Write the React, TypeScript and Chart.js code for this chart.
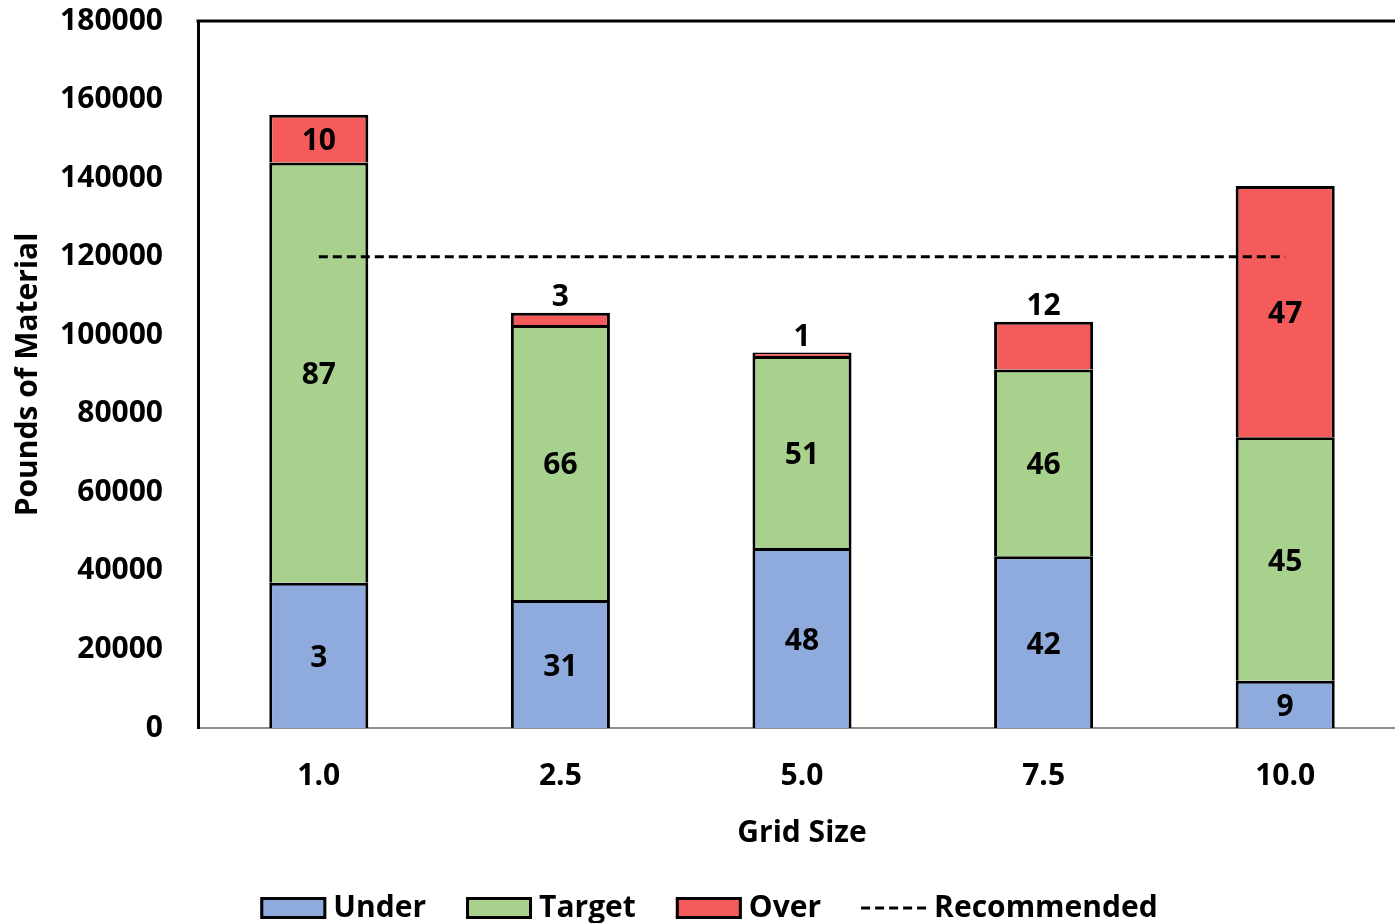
import { useEffect, useRef } from "react";
import { Chart, registerables } from "chart.js";

Chart.register(...registerables);

// Grid sizes on the x axis
const gridSizes = ["1.0", "2.5", "5.0", "7.5", "10.0"];

// Pounds of material per grid size, split by application rate class
const underLbs = [37000, 32600, 45800, 43700, 12000];
const targetLbs = [107000, 70000, 48900, 47600, 62000];
const overLbs = [12100, 3100, 900, 12100, 64000];
const recommendedLbs = [120000, 120000, 120000, 120000, 120000];

// Percent-of-area labels printed on each segment
const underPct = [3, 31, 48, 42, 9];
const targetPct = [87, 66, 51, 46, 45];
const overPct = [10, 3, 1, 12, 47];
// Thin "Over" segments get their label above the bar
const overLabelAbove = [false, true, true, true, false];

// Y axis range
const yMin = 0;
const yMax = 180000;
const yStep = 20000;

const FONT_FAMILY = "'Open Sans', sans-serif";
const FONT_SIZE = 30;

const segmentLabels = {
  id: "segmentLabels",
  afterDatasetsDraw(chart: any) {
    const ctx = chart.ctx;
    const sets = [underPct, targetPct, overPct];
    ctx.save();
    ctx.font = `bold ${FONT_SIZE}px ${FONT_FAMILY}`;
    ctx.fillStyle = "#000";
    ctx.textAlign = "center";
    ctx.textBaseline = "middle";
    sets.forEach((vals, di) => {
      const meta = chart.getDatasetMeta(di);
      meta.data.forEach((bar: any, i: number) => {
        const above = di === 2 && overLabelAbove[i];
        const y = above ? bar.y - 15 : (bar.y + bar.base) / 2 + 3;
        ctx.fillText(String(vals[i]), bar.x, y);
      });
    });
    ctx.restore();
  },
};

const topFrame = {
  id: "topFrame",
  afterDraw(chart: any) {
    const { ctx, chartArea } = chart;
    ctx.save();
    ctx.strokeStyle = "#000";
    ctx.lineWidth = 3;
    ctx.beginPath();
    ctx.moveTo(chartArea.left - 1.5, chartArea.top);
    ctx.lineTo(chartArea.right, chartArea.top);
    ctx.stroke();
    ctx.restore();
  },
};

const bottomLegend = {
  id: "bottomLegend",
  afterDraw(chart: any) {
    const ctx = chart.ctx;
    const datasets = chart.data.datasets;
    const boxW = 66;
    const boxH = 22;
    const symGap = 7;
    const itemGap = 40;
    const cy = 908;
    ctx.save();
    ctx.font = `bold ${FONT_SIZE}px ${FONT_FAMILY}`;
    ctx.textBaseline = "middle";
    ctx.textAlign = "left";
    const widths = datasets.map(
      (d: any) => boxW + symGap + ctx.measureText(d.label).width
    );
    const total =
      widths.reduce((a: number, b: number) => a + b, 0) +
      itemGap * (datasets.length - 1);
    let x = chart.width / 2 - total / 2 + 3;
    datasets.forEach((d: any, i: number) => {
      if (d.type === "line") {
        ctx.strokeStyle = d.borderColor;
        ctx.lineWidth = 3;
        ctx.setLineDash([9, 5]);
        ctx.beginPath();
        ctx.moveTo(x, cy);
        ctx.lineTo(x + boxW, cy);
        ctx.stroke();
        ctx.setLineDash([]);
      } else {
        ctx.fillStyle = d.backgroundColor;
        ctx.fillRect(x, cy - boxH / 2, boxW, boxH);
        ctx.strokeStyle = "#000";
        ctx.lineWidth = 3;
        ctx.strokeRect(x + 1.5, cy - boxH / 2 + 1.5, boxW - 3, boxH - 3);
      }
      ctx.fillStyle = "#000";
      ctx.fillText(d.label, x + boxW + symGap, cy);
      x += widths[i] + itemGap;
    });
    ctx.restore();
  },
};

export default function App() {
  const canvasRef = useRef<HTMLCanvasElement | null>(null);

  useEffect(() => {
    if (!canvasRef.current) return;
    Chart.defaults.font.family = FONT_FAMILY;
    Chart.defaults.color = "#000";

    const barCommon = {
      borderColor: "#000",
      borderWidth: 3,
      barPercentage: 0.41,
      categoryPercentage: 1,
      stack: "lbs",
      order: 1,
    };

    const chart = new Chart(canvasRef.current, {
      type: "bar",
      data: {
        labels: gridSizes,
        datasets: [
          { ...barCommon, label: "Under", data: underLbs, backgroundColor: "#8FAADC" },
          { ...barCommon, label: "Target", data: targetLbs, backgroundColor: "#A9D18E" },
          { ...barCommon, label: "Over", data: overLbs, backgroundColor: "#F65B5B" },
          {
            type: "line",
            label: "Recommended",
            data: recommendedLbs,
            borderColor: "#000",
            borderWidth: 3,
            borderDash: [9, 5],
            pointRadius: 0,
            fill: false,
            stack: "rec",
            order: 0,
          } as any,
        ],
      },
      options: {
        responsive: false,
        animation: false,
        devicePixelRatio: 1,
        layout: { padding: { top: 21, left: 0, right: 6, bottom: 67 } },
        plugins: {
          legend: { display: false },
          tooltip: { enabled: false },
        },
        scales: {
          x: {
            stacked: true,
            grid: { display: false, drawTicks: true, tickLength: 30 },
            border: { display: true, color: "#8c8c8c", width: 2 },
            ticks: {
              padding: 0,
              font: { size: FONT_SIZE, weight: "bold" },
              color: "#000",
            },
            title: {
              display: true,
              text: "Grid Size",
              font: { size: FONT_SIZE, weight: "bold" },
              color: "#000",
              padding: { top: 0, bottom: 17 },
            },
            afterFit: (scale: any) => {
              scale.height = 140;
            },
          },
          y: {
            stacked: true,
            min: yMin,
            max: yMax,
            grid: { display: false, drawTicks: true, tickLength: 35 },
            border: { display: true, color: "#000", width: 3 },
            ticks: {
              stepSize: yStep,
              padding: 0,
              font: { size: FONT_SIZE, weight: "bold" },
              color: "#000",
              callback: (v: any) => String(v),
            },
            title: {
              display: true,
              text: "Pounds of Material",
              font: { size: FONT_SIZE, weight: "bold" },
              color: "#000",
              padding: { top: 10, bottom: 0 },
            },
            afterFit: (scale: any) => {
              scale.width = 198;
            },
          },
        },
      },
      plugins: [segmentLabels, topFrame, bottomLegend],
    });

    return () => chart.destroy();
  }, []);

  return (
    <div
      style={{
        position: "absolute",
        left: 0,
        top: 0,
        width: 1395,
        height: 923,
        overflow: "hidden",
        background: "#fff",
      }}
    >
      <canvas ref={canvasRef} width={1412} height={935} />
    </div>
  );
}
